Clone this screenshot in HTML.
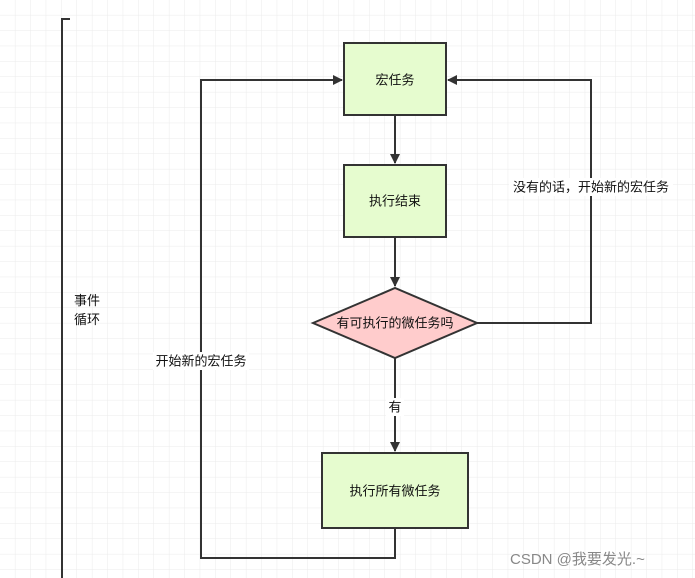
<!DOCTYPE html>
<html><head><meta charset="utf-8"><style>
html,body{margin:0;padding:0;background:#fff;}
svg{display:block;font-family:"Liberation Sans","Noto Sans CJK SC",sans-serif;}
</style></head><body>
<svg width="695" height="578" viewBox="0 0 695 578" xmlns="http://www.w3.org/2000/svg">
<defs>
<pattern id="g" width="15.4" height="15.4" patternUnits="userSpaceOnUse" x="0" y="0">
<path d="M15.4 0V15.4M0 15.4H15.4" fill="none" stroke="#ebebeb" stroke-width="1"/>
</pattern>
<marker id="a" markerWidth="10" markerHeight="10" refX="9" refY="5" orient="auto" markerUnits="userSpaceOnUse">
<path d="M0,0 L10,5 L0,10 z" fill="#333"/>
</marker>
</defs>
<rect width="695" height="578" fill="#fff"/>
<rect width="695" height="578" fill="url(#g)"/>
<g stroke="#333" stroke-width="2" fill="none">
<path d="M70,19 H62 V578"/>
<path d="M395,115 V163" marker-end="url(#a)"/>
<path d="M395,237 V286" marker-end="url(#a)"/>
<path d="M395,358 V451" marker-end="url(#a)"/>
<path d="M395,528 V558 H201 V80 H342" marker-end="url(#a)"/>
<path d="M477,323 H591 V80 H448" marker-end="url(#a)"/>
</g>
<g stroke="#333" stroke-width="2">
<rect x="344" y="43" width="102" height="72" fill="#e6fccf"/>
<rect x="344" y="165" width="102" height="72" fill="#e6fccf"/>
<polygon points="313,323 395,288 477,323 395,358" fill="#ffcccc"/>
<rect x="322" y="453" width="146" height="75" fill="#e6fccf"/>
</g>
<g font-size="13" fill="#111" text-anchor="middle" dominant-baseline="central">
<text x="395" y="80">宏任务</text>
<text x="395" y="201">执行结束</text>
<text x="395" y="323">有可执行的微任务吗</text>
<text x="395" y="491">执行所有微任务</text>
<rect x="386" y="398" width="18" height="18" fill="#fff"/>
<text x="395" y="407">有</text>
<rect x="509" y="178" width="164" height="18" fill="#fff"/>
<text x="591" y="187">没有的话，开始新的宏任务</text>
<rect x="153" y="352" width="96" height="18" fill="#fff"/>
<text x="201" y="361">开始新的宏任务</text>
</g>
<g font-size="13" fill="#111">
<text x="74" y="305">事件</text>
<text x="74" y="324">循环</text>
</g>
<text x="510" y="564" font-size="15" fill="#888">CSDN @我要发光.~</text>
</svg>
</body></html>
